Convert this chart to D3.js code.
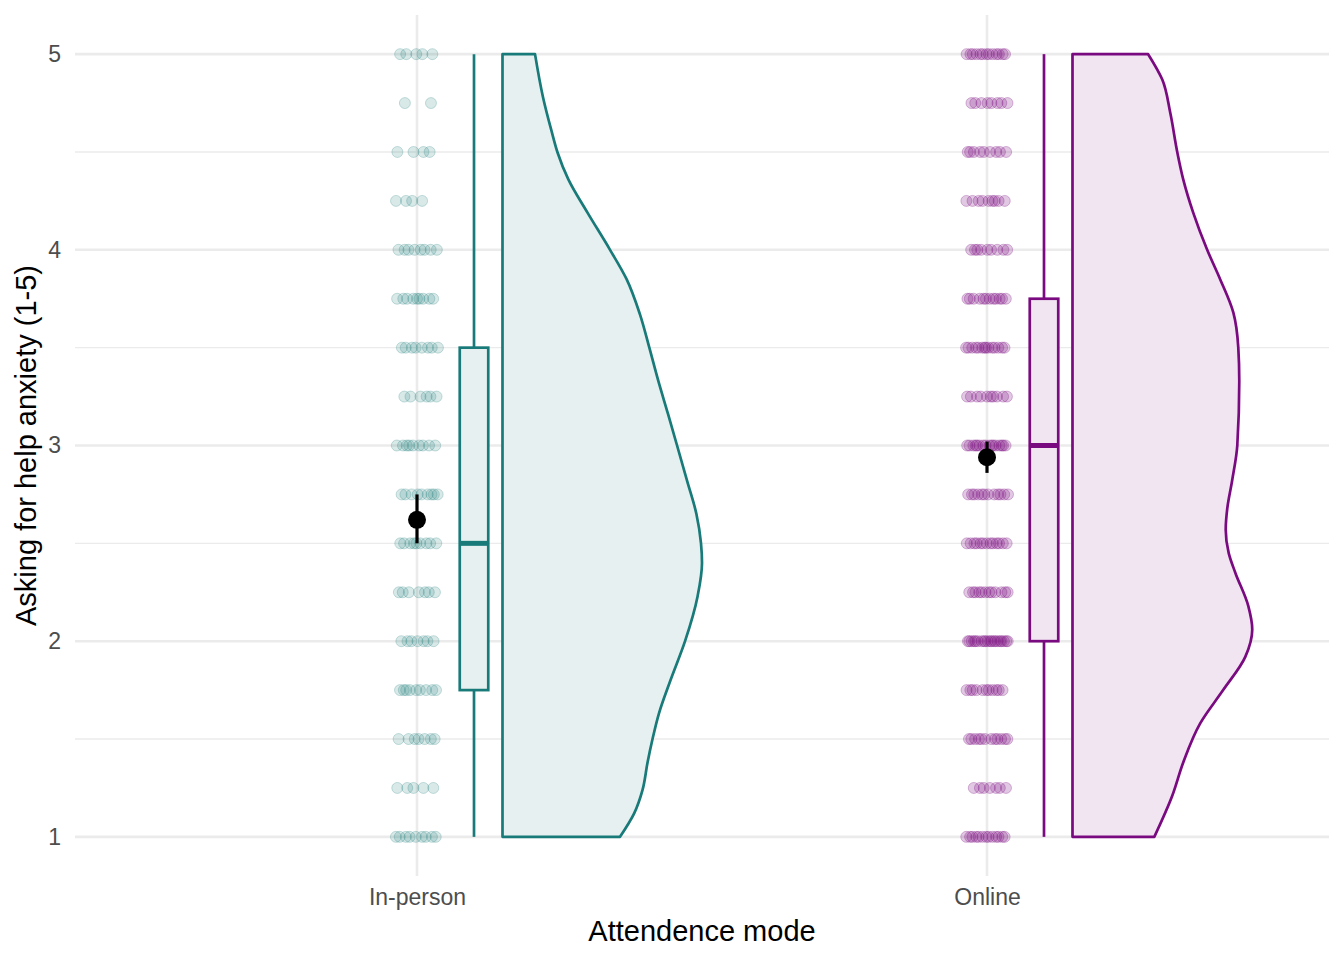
<!DOCTYPE html>
<html>
<head>
<meta charset="utf-8">
<script src="https://cdn.jsdelivr.net/npm/d3@7"></script>
<style>
  body { margin: 0; background: #fff; }
  text { font-family: "Liberation Sans", Arial, Helvetica, sans-serif; }
</style>
</head>
<body>
<div id="chart"></div>
<script>
// data
const categories = ["In-person", "Online"];
const levels = [1, 1.25, 1.5, 1.75, 2, 2.25, 2.5, 2.75, 3, 3.25, 3.5, 3.75, 4, 4.25, 4.5, 4.75, 5];
const inPersonCounts = [9, 5, 7, 9, 7, 7, 9, 9, 9, 6, 8, 9, 8, 4, 4, 2, 5];
const onlineCounts = [13, 7, 12, 11, 20, 12, 13, 12, 16, 10, 14, 12, 9, 9, 9, 8, 13];

const boxMin = [1, 1];
const boxQ1 = [1.75, 2];
const boxMedian = [2.5, 3];
const boxQ3 = [3.5, 3.75];
const boxMax = [5, 5];

const meanValue = [2.62, 2.94];
const ciLow = [2.5, 2.86];
const ciHigh = [2.75, 3.02];

// half violin outlines (relative density, largest = 1)
const inPersonDensY = [1.0, 1.12, 1.24, 1.38, 1.5, 1.63, 1.8, 2.0, 2.23, 2.4, 2.5, 2.65, 2.82, 3.0, 3.16, 3.33, 3.5, 3.67, 3.85, 4.0, 4.19, 4.36, 4.5, 4.61, 4.78, 5.0];
const inPersonDens = [0.589, 0.660, 0.702, 0.727, 0.752, 0.784, 0.842, 0.915, 0.978, 1.0, 0.995, 0.972, 0.925, 0.875, 0.830, 0.781, 0.736, 0.689, 0.622, 0.539, 0.426, 0.330, 0.275, 0.245, 0.203, 0.163];
const onlineDensY = [1.0, 1.21, 1.38, 1.58, 1.75, 1.92, 2.06, 2.18, 2.35, 2.45, 2.57, 2.68, 2.82, 3.0, 3.33, 3.5, 3.68, 3.85, 4.0, 4.19, 4.36, 4.5, 4.7, 4.87, 5.0];
const onlineDens = [0.410, 0.500, 0.555, 0.640, 0.755, 0.866, 0.901, 0.881, 0.816, 0.783, 0.768, 0.776, 0.800, 0.826, 0.836, 0.831, 0.806, 0.740, 0.675, 0.605, 0.555, 0.525, 0.490, 0.450, 0.379];

const yTicks = [1, 2, 3, 4, 5];
const yMinor = [1.5, 2.5, 3.5, 4.5];

const colours = ["#187A79", "#7A0A80"];
const fills = ["#E7F0F0", "#F1E5F2"];

const width = 1344;
const height = 960;
const margin = {left: 75, right: 15, top: 15, bottom: 84};

const svg = d3.select("#chart")
    .append("svg")
    .attr("width", width)
    .attr("height", height);

const xScale = d3.scalePoint()
    .domain(categories)
    .range([margin.left, width - margin.right])
    .padding(0.6);
const step = xScale.step();

const yScale = d3.scaleLinear()
    .domain([0.8, 5.2])
    .range([height - margin.bottom, margin.top]);

// grid
svg.append("g").selectAll("line")
    .data(yMinor)
    .enter().append("line")
    .attr("x1", margin.left).attr("x2", width - margin.right)
    .attr("y1", d => yScale(d)).attr("y2", d => yScale(d))
    .attr("stroke", "#EBEBEB").attr("stroke-width", 1.3);

svg.append("g").selectAll("line")
    .data(yTicks)
    .enter().append("line")
    .attr("x1", margin.left).attr("x2", width - margin.right)
    .attr("y1", d => yScale(d)).attr("y2", d => yScale(d))
    .attr("stroke", "#EBEBEB").attr("stroke-width", 2.6);

svg.append("g").selectAll("line")
    .data(categories)
    .enter().append("line")
    .attr("x1", d => xScale(d)).attr("x2", d => xScale(d))
    .attr("y1", margin.top).attr("y2", height - margin.bottom)
    .attr("stroke", "#EBEBEB").attr("stroke-width", 2.6);

// axes
const yAxis = svg.append("g")
    .attr("transform", `translate(${margin.left},0)`)
    .call(d3.axisLeft(yScale).tickValues(yTicks).tickFormat(d3.format("d")).tickSize(0).tickPadding(14));
yAxis.select(".domain").remove();
yAxis.selectAll("text").attr("font-size", "23px").attr("fill", "#4D4D4D")
    .style("font-family", "'Liberation Sans', Arial, sans-serif");

const xAxis = svg.append("g")
    .attr("transform", `translate(0,${height - margin.bottom})`)
    .call(d3.axisBottom(xScale).tickSize(0).tickPadding(13));
xAxis.select(".domain").remove();
xAxis.selectAll("text").attr("font-size", "23px").attr("fill", "#4D4D4D")
    .style("font-family", "'Liberation Sans', Arial, sans-serif");

svg.append("text")
    .attr("x", (margin.left + width - margin.right) / 2)
    .attr("y", 941)
    .attr("text-anchor", "middle")
    .attr("font-size", "29px")
    .text("Attendence mode");

svg.append("text")
    .attr("transform", `translate(36,${(margin.top + height - margin.bottom) / 2}) rotate(-90)`)
    .attr("text-anchor", "middle")
    .attr("font-size", "29px")
    .text("Asking for help anxiety (1-5)");

// half violins
const densities = [
    {ys: inPersonDensY, ds: inPersonDens},
    {ys: onlineDensY, ds: onlineDens}
];

categories.forEach((cat, i) => {
    const base = xScale(cat) + 0.15 * step;
    const pts = densities[i].ys.map((y, k) => ({y: y, d: densities[i].ds[k]}));
    const area = d3.area()
        .y(d => yScale(d.y))
        .x0(base)
        .x1(d => base + d.d * 0.35 * step)
        .curve(d3.curveMonotoneY);
    svg.append("path")
        .datum(pts)
        .attr("d", area)
        .attr("fill", fills[i])
        .attr("stroke", colours[i])
        .attr("stroke-width", 2.7)
        .attr("stroke-linejoin", "round");
});

// boxplots
categories.forEach((cat, i) => {
    const cx = xScale(cat) + 0.1 * step;
    const half = 0.025 * step;
    const g = svg.append("g").attr("stroke", colours[i]).attr("stroke-width", 2.7);
    g.append("line")
        .attr("x1", cx).attr("x2", cx)
        .attr("y1", yScale(boxQ3[i])).attr("y2", yScale(boxMax[i]));
    g.append("line")
        .attr("x1", cx).attr("x2", cx)
        .attr("y1", yScale(boxQ1[i])).attr("y2", yScale(boxMin[i]));
    g.append("rect")
        .attr("x", cx - half)
        .attr("width", 2 * half)
        .attr("y", yScale(boxQ3[i]))
        .attr("height", yScale(boxQ1[i]) - yScale(boxQ3[i]))
        .attr("fill", fills[i]);
    g.append("line")
        .attr("x1", cx - half).attr("x2", cx + half)
        .attr("y1", yScale(boxMedian[i])).attr("y2", yScale(boxMedian[i]))
        .attr("stroke-width", 5);
});

// jittered raw points
const counts = [inPersonCounts, onlineCounts];
const pointAlpha = [0.17, 0.22];
categories.forEach((cat, i) => {
    const rows = [];
    levels.forEach((lv, k) => {
        for (let j = 0; j < counts[i][k]; j++) {
            const frac = (j * 0.618034 + k * 0.414214 + i * 0.3) % 1;
            rows.push({v: lv, off: (frac * 2 - 1) * 0.037});
        }
    });
    svg.append("g").selectAll("circle")
        .data(rows)
        .enter().append("circle")
        .attr("cx", d => xScale(cat) + d.off * step)
        .attr("cy", d => yScale(d.v))
        .attr("r", 5.5)
        .attr("fill", colours[i])
        .attr("fill-opacity", pointAlpha[i])
        .attr("stroke", colours[i])
        .attr("stroke-opacity", pointAlpha[i] + 0.06)
        .attr("stroke-width", 1);
});

// mean with error bar
categories.forEach((cat, i) => {
    svg.append("line")
        .attr("x1", xScale(cat)).attr("x2", xScale(cat))
        .attr("y1", yScale(ciLow[i])).attr("y2", yScale(ciHigh[i]))
        .attr("stroke", "black").attr("stroke-width", 3.2);
    svg.append("circle")
        .attr("cx", xScale(cat))
        .attr("cy", yScale(meanValue[i]))
        .attr("r", 9)
        .attr("fill", "black");
});
</script>
</body>
</html>
